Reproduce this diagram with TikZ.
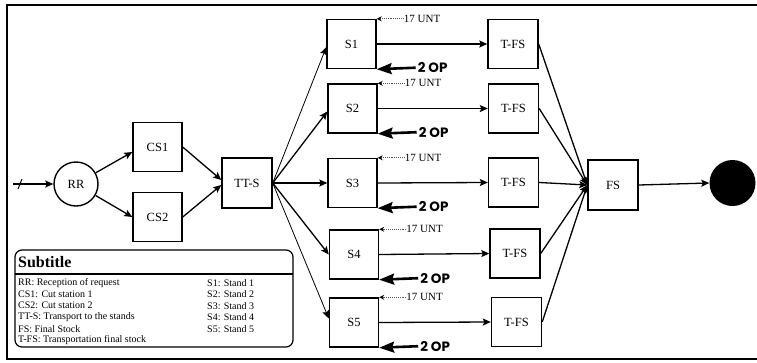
\documentclass[tikz,border=0pt]{standalone}
\usepackage{fontspec}
\setmainfont{Liberation Serif}
\newfontfamily\opfont{Poppins}
\usetikzlibrary{arrows.meta,calc}
\begin{document}
\begin{tikzpicture}[x=1pt,y=-1pt,
  box/.style={draw,line width=1.4pt,minimum width=49pt,minimum height=49pt,inner sep=0pt,font=\fontsize{12.5}{12.5}\selectfont},
  flow/.style={line width=1.3pt,-{Stealth[length=8pt,width=7pt,inset=1.5pt]}},
  thinflow/.style={line width=0.8pt,-{Stealth[length=8pt,width=7pt,inset=1.5pt]}},
  untlabel/.style={anchor=west,inner sep=0pt,font=\fontsize{11}{11}\selectfont},
  untarrow/.style={densely dotted,line width=0.9pt,gray!70!black,-{Stealth[length=5pt,width=5pt,black]}},
  oplabel/.style={anchor=west,inner sep=0pt,font=\opfont\bfseries\fontsize{13.5}{13.5}\selectfont},
  oparrow/.style={line width=2.6pt,-{Stealth[length=15pt,width=11pt,inset=2pt]}},
  legtext/.style={anchor=west,inner sep=0pt,font=\fontsize{10}{10}\selectfont}
]
\useasboundingbox (0,0) rectangle (757,362);
% frame
\draw[line width=2pt] (757,5) -- (7,5) -- (7,359) -- (757,359);

% nodes
\coordinate (in) at (13,184);
\node[draw,circle,line width=1.4pt,minimum size=44pt,inner sep=0pt,font=\fontsize{12.5}{12.5}\selectfont] (rr) at (76,184) {RR};
\node[box] (cs1) at (157.5,147) {CS1};
\node[box] (cs2) at (157.5,217) {CS2};
\node[box,minimum width=50pt,minimum height=50pt] (tts) at (247,183) {TT-S};

\node[box] (s1) at (351.5,44) {S1};
\node[box] (s2) at (352.5,108.5) {S2};
\node[box] (s3) at (352.5,183) {S3};
\node[box] (s4) at (354,254.5) {S4};
\node[box] (s5) at (354,322.5) {S5};

\node[box,minimum width=50pt] (t1) at (513,44) {T-FS};
\node[box,minimum width=50pt] (t2) at (513.5,108.5) {T-FS};
\node[box,minimum width=50pt] (t3) at (513.5,182.5) {T-FS};
\node[box,minimum width=50pt] (t4) at (515,253.5) {T-FS};
\node[box,minimum width=50pt] (t5) at (516.5,322) {T-FS};

\node[box,minimum width=50pt,minimum height=50pt] (fs) at (613,185) {FS};
\node[circle,fill=black,minimum size=46pt,inner sep=0pt] (end) at (732.5,183) {};

% connectors
\draw[flow] (in) -- (rr);
\draw[line width=1pt] (18,189) -- (22,179);
\draw[flow] (rr) -- ([yshift=-5pt]cs1.west);
\draw[flow] (rr) -- (cs2.west);
\draw[flow] (cs1.east) -- ([yshift=3pt]tts.west);
\draw[flow] (cs2.east) -- ([yshift=-2pt]tts.west);

\draw[thinflow] (tts.east) -- ([yshift=-3pt]s1.west);
\draw[flow] (tts.east) -- ([yshift=-3pt]s2.west);
\draw[flow] (tts.east) -- (s3.west);
\draw[flow] (tts.east) -- (s4.west);
\draw[thinflow] (tts.east) -- ([yshift=4pt]s5.west);

\foreach \i in {1,...,5}{
  \draw[flow] (s\i.east) -- (t\i.west);
  \draw[flow] (t\i.east) -- (fs.west);
  \node[untlabel] (u\i) at ([xshift=27pt]s\i.north east) {17 UNT};
  \draw[untarrow] (u\i.west) -- (s\i.north east);
  \node[oplabel] (o\i) at ([xshift=41pt,yshift=1.5pt]s\i.south east) {2 OP};
  \draw[oparrow] ([xshift=-2pt]o\i.west) -- (s\i.south east);
}
\draw[flow] (fs.east) -- (end.west);

% legend
\draw[line width=1.2pt,rounded corners=7pt] (15,250) rectangle (293,347);
\draw[line width=2pt] (15,274) -- (293,274);
\node[anchor=west,inner sep=0pt,font=\bfseries\fontsize{16}{16}\selectfont] (lt) at (18,262.5) {Subtitle};
\node[legtext] (l1) at (18,283) {RR: Reception of request};
\node[legtext] (l2) at (18,294) {CS1: Cut station 1};
\node[legtext] (l3) at (18,305.5) {CS2: Cut station 2};
\node[legtext] (l4) at (18,317.5) {TT-S: Transport to the stands};
\node[legtext] (l5) at (18,329) {FS: Final Stock};
\node[legtext] (l6) at (18,340) {T-FS: Transportation final stock};
\node[legtext] (r1) at (207,283) {S1: Stand 1};
\node[legtext] (r2) at (207,294.5) {S2: Stand 2};
\node[legtext] (r3) at (207,306) {S3: Stand 3};
\node[legtext] (r4) at (207,317.5) {S4: Stand 4};
\node[legtext] (r5) at (207,329) {S5: Stand 5};
\end{tikzpicture}
\end{document}
